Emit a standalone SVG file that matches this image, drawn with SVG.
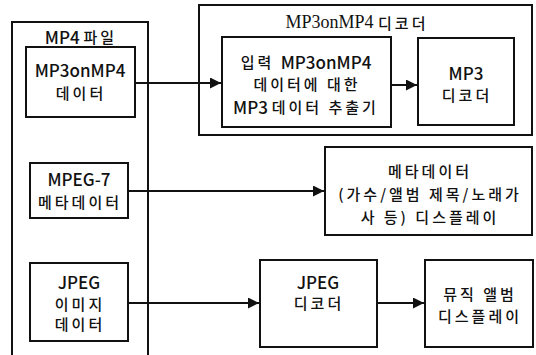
<svg xmlns="http://www.w3.org/2000/svg" width="536" height="355" viewBox="0 0 536 355">
<style>
  .box { fill: #fff; stroke: #111; stroke-width: 2; }
  .frame { fill: none; stroke: #111; stroke-width: 2; }
  .ln { stroke: #111; stroke-width: 2; fill: none; }
  text { font-family: "Noto Sans CJK KR", "Noto Sans", sans-serif; fill: #111; text-anchor: middle; dominant-baseline: central; }
  .en { font-size: 17px; font-weight: 500; }
  .ko { font-size: 15px; letter-spacing: 3px; font-weight: 500; }
  .ti { font-family: "Liberation Serif", "Noto Sans CJK KR", serif; font-size: 18px; }
</style>
<defs>
  <marker id="ah" viewBox="0 0 10 10" refX="10" refY="5" markerWidth="11" markerHeight="11" markerUnits="userSpaceOnUse" orient="auto">
    <path d="M0,0 L10,5 L0,10 z" fill="#111"/>
  </marker>
</defs>
<rect width="536" height="355" fill="#fff"/>

<g id="mp4file">
  <rect class="frame" x="12" y="22" width="136" height="340"/>
  <text x="81" y="36"><tspan class="en">MP4 </tspan><tspan class="ko">파일</tspan></text>
</g>
<g id="decoderGroup">
  <rect class="frame" x="199" y="5" width="333" height="130"/>
  <text x="357" y="22"><tspan class="ti">MP3onMP4 </tspan><tspan class="ko" font-size="16">디코더</tspan></text>
</g>

<g id="mp3data">
  <rect class="box" x="26" y="47" width="109" height="70"/>
  <text x="80" y="69" class="en">MP3onMP4</text>
  <text x="81" y="92" class="ko">데이터</text>
</g>
<g id="extractor">
  <rect class="box" x="222" y="37" width="169" height="90"/>
  <text x="306" y="61"><tspan class="ko">입력 </tspan><tspan class="en">MP3onMP4</tspan></text>
  <text x="307" y="83" class="ko">데이터에 대한</text>
  <text x="306" y="106"><tspan class="en">MP3 </tspan><tspan class="ko">데이터 추출기</tspan></text>
</g>
<g id="mp3decoder">
  <rect class="box" x="418" y="38" width="96" height="87"/>
  <text x="466" y="72" class="en">MP3</text>
  <text x="467" y="94" class="ko">디코더</text>
</g>
<g id="mpeg7">
  <rect class="box" x="30" y="163" width="98" height="55"/>
  <text x="79" y="178" class="en">MPEG-7</text>
  <text x="80" y="201" class="ko">메타데이터</text>
</g>
<g id="metadisplay">
  <rect class="box" x="325" y="147" width="207" height="88"/>
  <text x="430" y="170" class="ko">메타데이터</text>
  <text x="430" y="193" class="ko">(가수/앨범 제목/노래가</text>
  <text x="430" y="216" class="ko">사 등) 디스플레이</text>
</g>
<g id="jpegdata">
  <rect class="box" x="30" y="263" width="98" height="78"/>
  <text x="79" y="281" class="en">JPEG</text>
  <text x="80" y="303" class="ko">이미지</text>
  <text x="80" y="323" class="ko">데이터</text>
</g>
<g id="jpegdecoder">
  <rect class="box" x="260" y="260" width="117" height="87"/>
  <text x="318" y="281" class="en">JPEG</text>
  <text x="319" y="302" class="ko">디코더</text>
</g>
<g id="musicdisplay">
  <rect class="box" x="425" y="260" width="108" height="87"/>
  <text x="480" y="293" class="ko">뮤직 앨범</text>
  <text x="480" y="315" class="ko">디스플레이</text>
</g>

<g id="connectors">
  <line class="ln" x1="135" y1="83" x2="221" y2="83" marker-end="url(#ah)"/>
  <line class="ln" x1="391" y1="85" x2="417" y2="85" marker-end="url(#ah)"/>
  <line class="ln" x1="128" y1="191" x2="324" y2="191" marker-end="url(#ah)"/>
  <line class="ln" x1="128" y1="303" x2="259" y2="303" marker-end="url(#ah)"/>
  <line class="ln" x1="377" y1="303" x2="424" y2="303" marker-end="url(#ah)"/>
</g>
</svg>
